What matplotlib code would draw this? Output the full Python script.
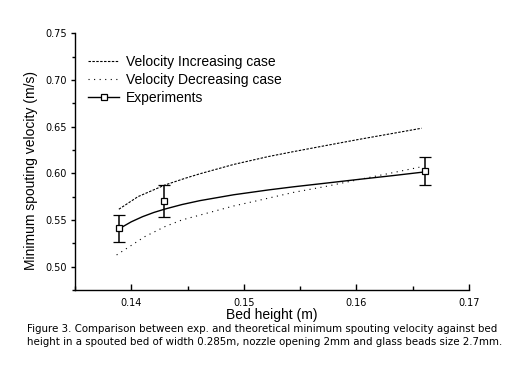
import matplotlib
matplotlib.use('Agg')
import matplotlib.pyplot as plt
from matplotlib.ticker import MultipleLocator

plt.rcParams['font.family'] = ['Liberation Sans', 'DejaVu Sans']

# Experimental points with error bars
exp_h = [0.1389, 0.1429, 0.1661]
exp_v = [0.541, 0.570, 0.602]
exp_err = [0.0145, 0.017, 0.015]

# Fitted curve through the experiments
fit_h = [0.1390, 0.1400, 0.1410, 0.1420, 0.1430, 0.1445, 0.1461, 0.1491,
         0.1522, 0.1544, 0.1574, 0.1603, 0.1633, 0.1658]
fit_v = [0.5411, 0.5480, 0.5535, 0.5580, 0.5617, 0.5665, 0.5707, 0.5770,
         0.5822, 0.5855, 0.5896, 0.5936, 0.5976, 0.6011]

# Theoretical: velocity increasing case
inc_h = [0.1389, 0.1406, 0.1430, 0.1448, 0.1461, 0.1491, 0.1522, 0.1544,
         0.1574, 0.1603, 0.1633, 0.1658]
inc_v = [0.5615, 0.5750, 0.5875, 0.5947, 0.5995, 0.6095, 0.6180, 0.6232,
         0.6300, 0.6365, 0.6429, 0.6483]

# Theoretical: velocity decreasing case
dec_h = [0.1387, 0.1412, 0.1430, 0.1445, 0.1491, 0.1514, 0.1544, 0.1574,
         0.1603, 0.1633, 0.1656]
dec_v = [0.5125, 0.5321, 0.5429, 0.5500, 0.5650, 0.5712, 0.5795, 0.5862,
         0.5935, 0.6008, 0.6065]

caption = ("Figure 3. Comparison between exp. and theoretical minimum spouting velocity against bed\n"
           "height in a spouted bed of width 0.285m, nozzle opening 2mm and glass beads size 2.7mm.")

fig = plt.figure(figsize=(5.28, 3.79), dpi=100)
ax = fig.add_axes([0.142, 0.235, 0.746, 0.677])

ax.plot(inc_h, inc_v, color='black', lw=0.8, linestyle=(0, (2.2, 1.3)),
        label='Velocity Increasing case')
ax.plot(dec_h, dec_v, color='black', lw=0.8, linestyle=(0, (1, 4)),
        label='Velocity Decreasing case')
ax.plot(fit_h, fit_v, color='black', lw=1.0)
ax.errorbar(exp_h, exp_v, yerr=exp_err, fmt='s', color='black', mfc='white',
            mec='black', ms=5, mew=0.9, capsize=4, elinewidth=1.1, capthick=1.1)
# legend proxy for the experiments entry
ax.plot([], [], color='black', lw=1.0, marker='s', mfc='white', ms=4.5, mew=0.9,
        label='Experiments')

ax.set_xlim(0.135, 0.17)
ax.set_ylim(0.475, 0.75)
ax.xaxis.set_major_locator(MultipleLocator(0.01))
ax.xaxis.set_minor_locator(MultipleLocator(0.005))
ax.yaxis.set_major_locator(MultipleLocator(0.05))
ax.yaxis.set_minor_locator(MultipleLocator(0.025))
ax.xaxis.set_major_formatter(plt.FuncFormatter(lambda v, p: f'{v:.2f}'))
ax.yaxis.set_major_formatter(plt.FuncFormatter(lambda v, p: f'{v:.2f}'))

for s in ['top', 'right']:
    ax.spines[s].set_visible(False)
for s in ['left', 'bottom']:
    ax.spines[s].set_linewidth(1.0)

ax.tick_params(axis='x', which='major', direction='in', length=4, width=1, labelsize=7, pad=6)
ax.tick_params(axis='x', which='minor', direction='in', length=3, width=1)
ax.tick_params(axis='y', which='major', direction='out', length=3, width=1, labelsize=7, pad=3)
ax.tick_params(axis='y', which='minor', direction='out', length=2, width=1)
for lbl in ax.get_xticklabels() + ax.get_yticklabels():
    lbl.set_family('DejaVu Sans')

ax.set_xlabel('Bed height (m)', fontsize=10, labelpad=0)
ax.set_ylabel('Minimum spouting velocity (m/s)', fontsize=10)
ax.yaxis.set_label_coords(-0.094, 0.467)

handles, labels = ax.get_legend_handles_labels()
ax.legend(handles, labels, loc='upper left', bbox_to_anchor=(0.02, 0.938),
          frameon=False, fontsize=10, handlelength=2.2, handletextpad=0.5,
          labelspacing=0.3, borderaxespad=0)

fig.text(0.051, 1 - 324 / 379, caption, fontsize=7.4, family='DejaVu Sans',
         ha='left', va='top', linespacing=1.4)

fig.savefig('out.png', dpi=100)
